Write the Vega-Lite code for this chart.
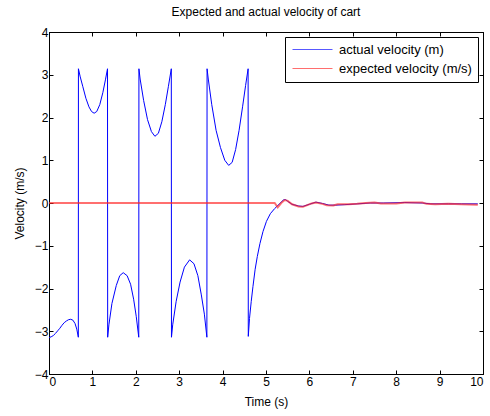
{
  "$schema": "https://vega.github.io/schema/vega-lite/v6.json",
  "autosize": {"type": "none"},
  "padding": {"left": 49, "top": 32, "right": 7, "bottom": 42},
  "width": 434,
  "height": 342,
  "background": "white",
  "title": {"text": "Expected and actual velocity of cart", "fontSize": 12, "fontWeight": "normal", "font": "Liberation Sans", "offset": 7, "color": "black"},
  "config": {
    "view": {"stroke": "black", "strokeWidth": 1},
    "axis": {"labelFont": "Liberation Sans", "titleFont": "Liberation Sans", "labelFontSize": 12, "titleFontSize": 12, "titleFontWeight": "normal", "labelColor": "black", "titleColor": "black", "domainColor": "black", "tickColor": "black", "grid": false},
    "legend": {"labelFont": "Liberation Sans"}
  },
  "datasets": {
    "v": [
      {"s": "actual velocity (m)", "t": 0, "y": -3.15},
      {"s": "actual velocity (m)", "t": 0.05, "y": -3.13},
      {"s": "actual velocity (m)", "t": 0.1, "y": -3.1},
      {"s": "actual velocity (m)", "t": 0.15, "y": -3.05},
      {"s": "actual velocity (m)", "t": 0.2, "y": -2.99},
      {"s": "actual velocity (m)", "t": 0.25, "y": -2.93},
      {"s": "actual velocity (m)", "t": 0.3, "y": -2.86},
      {"s": "actual velocity (m)", "t": 0.35, "y": -2.8},
      {"s": "actual velocity (m)", "t": 0.4, "y": -2.76},
      {"s": "actual velocity (m)", "t": 0.45, "y": -2.73},
      {"s": "actual velocity (m)", "t": 0.5, "y": -2.72},
      {"s": "actual velocity (m)", "t": 0.55, "y": -2.74},
      {"s": "actual velocity (m)", "t": 0.6, "y": -2.82},
      {"s": "actual velocity (m)", "t": 0.64, "y": -2.95},
      {"s": "actual velocity (m)", "t": 0.676, "y": -3.14},
      {"s": "actual velocity (m)", "t": 0.678, "y": 3.14},
      {"s": "actual velocity (m)", "t": 0.72, "y": 2.95},
      {"s": "actual velocity (m)", "t": 0.78, "y": 2.72},
      {"s": "actual velocity (m)", "t": 0.85, "y": 2.45},
      {"s": "actual velocity (m)", "t": 0.92, "y": 2.25},
      {"s": "actual velocity (m)", "t": 0.98, "y": 2.14},
      {"s": "actual velocity (m)", "t": 1.04, "y": 2.1},
      {"s": "actual velocity (m)", "t": 1.1, "y": 2.14},
      {"s": "actual velocity (m)", "t": 1.17, "y": 2.3},
      {"s": "actual velocity (m)", "t": 1.24, "y": 2.58},
      {"s": "actual velocity (m)", "t": 1.3, "y": 2.88},
      {"s": "actual velocity (m)", "t": 1.348, "y": 3.14},
      {"s": "actual velocity (m)", "t": 1.352, "y": -3.14},
      {"s": "actual velocity (m)", "t": 1.38, "y": -2.85},
      {"s": "actual velocity (m)", "t": 1.45, "y": -2.35},
      {"s": "actual velocity (m)", "t": 1.55, "y": -1.93},
      {"s": "actual velocity (m)", "t": 1.63, "y": -1.7},
      {"s": "actual velocity (m)", "t": 1.71, "y": -1.63},
      {"s": "actual velocity (m)", "t": 1.8, "y": -1.7},
      {"s": "actual velocity (m)", "t": 1.88, "y": -1.9},
      {"s": "actual velocity (m)", "t": 1.95, "y": -2.25},
      {"s": "actual velocity (m)", "t": 2.01, "y": -2.65},
      {"s": "actual velocity (m)", "t": 2.068, "y": -3.14},
      {"s": "actual velocity (m)", "t": 2.072, "y": 3.14},
      {"s": "actual velocity (m)", "t": 2.1, "y": 2.9},
      {"s": "actual velocity (m)", "t": 2.18, "y": 2.4},
      {"s": "actual velocity (m)", "t": 2.27, "y": 1.95},
      {"s": "actual velocity (m)", "t": 2.36, "y": 1.67},
      {"s": "actual velocity (m)", "t": 2.44, "y": 1.56},
      {"s": "actual velocity (m)", "t": 2.52, "y": 1.63},
      {"s": "actual velocity (m)", "t": 2.6, "y": 1.9},
      {"s": "actual velocity (m)", "t": 2.68, "y": 2.3},
      {"s": "actual velocity (m)", "t": 2.75, "y": 2.72},
      {"s": "actual velocity (m)", "t": 2.818, "y": 3.14},
      {"s": "actual velocity (m)", "t": 2.822, "y": -3.14},
      {"s": "actual velocity (m)", "t": 2.85, "y": -2.85},
      {"s": "actual velocity (m)", "t": 2.93, "y": -2.3},
      {"s": "actual velocity (m)", "t": 3.02, "y": -1.85},
      {"s": "actual velocity (m)", "t": 3.12, "y": -1.5},
      {"s": "actual velocity (m)", "t": 3.24, "y": -1.33},
      {"s": "actual velocity (m)", "t": 3.34, "y": -1.42},
      {"s": "actual velocity (m)", "t": 3.43, "y": -1.7},
      {"s": "actual velocity (m)", "t": 3.51, "y": -2.15},
      {"s": "actual velocity (m)", "t": 3.58, "y": -2.6},
      {"s": "actual velocity (m)", "t": 3.638, "y": -3.14},
      {"s": "actual velocity (m)", "t": 3.642, "y": 3.14},
      {"s": "actual velocity (m)", "t": 3.67, "y": 2.9},
      {"s": "actual velocity (m)", "t": 3.75, "y": 2.3},
      {"s": "actual velocity (m)", "t": 3.85, "y": 1.7},
      {"s": "actual velocity (m)", "t": 3.95, "y": 1.3},
      {"s": "actual velocity (m)", "t": 4.05, "y": 1.0},
      {"s": "actual velocity (m)", "t": 4.14, "y": 0.88},
      {"s": "actual velocity (m)", "t": 4.22, "y": 0.95},
      {"s": "actual velocity (m)", "t": 4.3, "y": 1.25},
      {"s": "actual velocity (m)", "t": 4.38, "y": 1.7},
      {"s": "actual velocity (m)", "t": 4.46, "y": 2.25},
      {"s": "actual velocity (m)", "t": 4.53, "y": 2.75},
      {"s": "actual velocity (m)", "t": 4.588, "y": 3.14},
      {"s": "actual velocity (m)", "t": 4.592, "y": -3.12},
      {"s": "actual velocity (m)", "t": 4.62, "y": -2.7},
      {"s": "actual velocity (m)", "t": 4.66, "y": -2.3},
      {"s": "actual velocity (m)", "t": 4.7, "y": -1.95},
      {"s": "actual velocity (m)", "t": 4.75, "y": -1.55},
      {"s": "actual velocity (m)", "t": 4.8, "y": -1.25},
      {"s": "actual velocity (m)", "t": 4.86, "y": -0.95},
      {"s": "actual velocity (m)", "t": 4.93, "y": -0.67},
      {"s": "actual velocity (m)", "t": 5.01, "y": -0.43},
      {"s": "actual velocity (m)", "t": 5.1, "y": -0.25},
      {"s": "actual velocity (m)", "t": 5.2, "y": -0.13},
      {"s": "actual velocity (m)", "t": 5.3, "y": -0.03},
      {"s": "actual velocity (m)", "t": 5.4, "y": 0.07},
      {"s": "actual velocity (m)", "t": 5.45, "y": 0.08},
      {"s": "actual velocity (m)", "t": 5.5, "y": 0.04},
      {"s": "actual velocity (m)", "t": 5.6, "y": -0.03},
      {"s": "actual velocity (m)", "t": 5.75, "y": -0.07},
      {"s": "actual velocity (m)", "t": 5.85, "y": -0.08},
      {"s": "actual velocity (m)", "t": 6.0, "y": -0.03},
      {"s": "actual velocity (m)", "t": 6.15, "y": 0.02},
      {"s": "actual velocity (m)", "t": 6.3, "y": -0.01},
      {"s": "actual velocity (m)", "t": 6.45, "y": -0.05},
      {"s": "actual velocity (m)", "t": 6.6, "y": -0.05},
      {"s": "actual velocity (m)", "t": 6.8, "y": -0.04},
      {"s": "actual velocity (m)", "t": 7.1, "y": -0.02},
      {"s": "actual velocity (m)", "t": 7.4, "y": 0.0},
      {"s": "actual velocity (m)", "t": 7.7, "y": 0.0},
      {"s": "actual velocity (m)", "t": 8.2, "y": 0.01},
      {"s": "actual velocity (m)", "t": 8.6, "y": 0.0},
      {"s": "actual velocity (m)", "t": 8.8, "y": -0.02},
      {"s": "actual velocity (m)", "t": 9.2, "y": -0.02},
      {"s": "actual velocity (m)", "t": 9.5, "y": -0.02},
      {"s": "actual velocity (m)", "t": 9.88, "y": -0.02},
      {"s": "expected velocity (m/s)", "t": 0, "y": 0},
      {"s": "expected velocity (m/s)", "t": 5.2, "y": 0},
      {"s": "expected velocity (m/s)", "t": 5.27, "y": -0.1},
      {"s": "expected velocity (m/s)", "t": 5.35, "y": 0.0},
      {"s": "expected velocity (m/s)", "t": 5.43, "y": 0.07},
      {"s": "expected velocity (m/s)", "t": 5.5, "y": 0.05},
      {"s": "expected velocity (m/s)", "t": 5.6, "y": -0.03},
      {"s": "expected velocity (m/s)", "t": 5.75, "y": -0.08},
      {"s": "expected velocity (m/s)", "t": 5.85, "y": -0.09},
      {"s": "expected velocity (m/s)", "t": 5.95, "y": -0.05},
      {"s": "expected velocity (m/s)", "t": 6.05, "y": -0.01},
      {"s": "expected velocity (m/s)", "t": 6.15, "y": 0.01},
      {"s": "expected velocity (m/s)", "t": 6.3, "y": -0.02},
      {"s": "expected velocity (m/s)", "t": 6.4, "y": -0.05},
      {"s": "expected velocity (m/s)", "t": 6.55, "y": -0.06},
      {"s": "expected velocity (m/s)", "t": 6.65, "y": -0.03},
      {"s": "expected velocity (m/s)", "t": 6.9, "y": -0.03},
      {"s": "expected velocity (m/s)", "t": 7.1, "y": -0.02},
      {"s": "expected velocity (m/s)", "t": 7.3, "y": 0.0},
      {"s": "expected velocity (m/s)", "t": 7.5, "y": 0.01},
      {"s": "expected velocity (m/s)", "t": 7.65, "y": -0.01},
      {"s": "expected velocity (m/s)", "t": 8.0, "y": -0.01},
      {"s": "expected velocity (m/s)", "t": 8.2, "y": 0.01},
      {"s": "expected velocity (m/s)", "t": 8.6, "y": 0.01},
      {"s": "expected velocity (m/s)", "t": 8.7, "y": -0.02},
      {"s": "expected velocity (m/s)", "t": 8.9, "y": -0.03},
      {"s": "expected velocity (m/s)", "t": 9.2, "y": -0.02},
      {"s": "expected velocity (m/s)", "t": 9.5, "y": -0.03},
      {"s": "expected velocity (m/s)", "t": 9.88, "y": -0.04}
    ],
    "dummy": [{"t": 0, "y": 0}]
  },
  "layer": [
    {
      "data": {"name": "v"},
      "layer": [
        {
          "transform": [{"filter": "datum.s === 'actual velocity (m)'"}],
          "mark": {"type": "line", "strokeWidth": 1, "clip": true},
          "encoding": {
            "x": {"field": "t", "type": "quantitative", "scale": {"domain": [0, 10], "nice": false},
                  "axis": {"title": "Time (s)", "values": [0,1,2,3,4,5,6,7,8,9,10], "tickSize": -4, "labelPadding": 6, "titlePadding": 9, "domain": true}},
            "y": {"field": "y", "type": "quantitative", "scale": {"domain": [-4, 4], "nice": false},
                  "axis": {"title": "Velocity (m/s)", "values": [-4,-3,-2,-1,0,1,2,3,4], "tickSize": -4, "labelPadding": 5, "titlePadding": 8}},
            "color": {"field": "s", "type": "nominal",
                      "scale": {"domain": ["actual velocity (m)", "expected velocity (m/s)"], "range": ["#0000ff", "#ff2222"]},
                      "legend": {"title": null, "orient": "top-right", "offset": 5, "strokeColor": "black", "fillColor": "white", "padding": 6,
                                 "symbolType": "M-4,0H4", "symbolSize": 100, "symbolStrokeWidth": 1, "symbolOffset": 15,
                                 "labelFontSize": 13, "rowPadding": 5, "labelOffset": 20}},
            "order": {"field": "t", "type": "quantitative"}
          }
        },
        {
          "transform": [{"filter": "datum.s === 'expected velocity (m/s)'"}],
          "mark": {"type": "line", "strokeWidth": 2, "opacity": 0.65, "clip": true},
          "encoding": {
            "x": {"field": "t", "type": "quantitative"},
            "y": {"field": "y", "type": "quantitative"},
            "color": {"field": "s", "type": "nominal"},
            "order": {"field": "t", "type": "quantitative"}
          }
        }
      ]
    },
    {
      "data": {"name": "dummy"},
      "mark": {"type": "point", "opacity": 0},
      "encoding": {
        "x": {"field": "t", "type": "quantitative", "scale": {"domain": [0, 10], "nice": false},
              "axis": {"orient": "top", "title": null, "labels": false, "values": [0,1,2,3,4,5,6,7,8,9,10], "tickSize": -4}},
        "y": {"field": "y", "type": "quantitative", "scale": {"domain": [-4, 4], "nice": false},
              "axis": {"orient": "right", "title": null, "labels": false, "values": [-4,-3,-2,-1,0,1,2,3,4], "tickSize": -4}}
      }
    }
  ],
  "resolve": {"scale": {"x": "independent", "y": "independent"}}
}
